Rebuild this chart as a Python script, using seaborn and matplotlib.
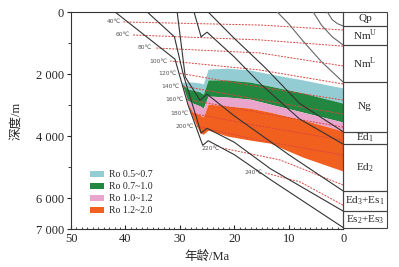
import numpy as np
import pandas as pd
import seaborn as sns
import matplotlib.pyplot as plt
from matplotlib.patches import Patch, Rectangle
from matplotlib.ticker import MultipleLocator

# burial curves of horizon bottoms: (age Ma, depth m)
qp_bot = [(2.9, 0), (2.0, 250), (1.0, 380), (0, 450)]
nmu_bot = [(5.5, 0), (4.0, 420), (2.0, 800), (0, 1065)]
nml_bot = [(12.1, 0), (10, 380), (7.4, 930), (4, 1600), (0, 2260)]
ng_bot = [(24.8, 0), (20, 850), (14.3, 1800), (8, 2950), (0, 3860)]
ed1_bot = [(27.4, 0), (26.1, 800), (25.0, 650), (20, 1450), (15, 2350), (8, 3450), (0, 4260)]
ed2_bot = [(30.5, 0), (29.0, 2100), (26.3, 2850), (25.0, 2650), (20, 3350), (10, 4600), (0, 5770)]
ed3_bot = [(36.0, 0), (31.0, 800), (29.4, 2000), (26.1, 3900), (25.0, 3750), (20, 4200), (13.4, 5050), (0, 6420)]
es3_bot = [(41.9, 0), (30.9, 1520), (28.5, 3000), (25.8, 4300), (24.8, 4150), (20, 4600), (13.4, 5400), (0, 6950)]
horizons = [qp_bot, nmu_bot, nml_bot, ng_bot, ed1_bot, ed2_bot, ed3_bot, es3_bot]

# isotherms: label -> (age, depth) points
isotherms = {
    '40℃': [(40.4, 320), (15.3, 420), (0, 580)],
    '60℃': [(38.6, 740), (15.3, 900), (0, 1100)],
    '80℃': [(34.6, 1160), (15.3, 1320), (0, 1740)],
    '100℃': [(31.8, 1580), (15.3, 1870), (0, 2320)],
    '120℃': [(30.2, 1970), (15.3, 2420), (0, 2840)],
    '140℃': [(29.5, 2390), (15.3, 2830), (0, 3290)],
    '160℃': [(28.8, 2810), (15.3, 3250), (0, 3710)],
    '180℃': [(28.0, 3260), (15.3, 3680), (0, 4130)],
    '200℃': [(27.0, 3680), (15.3, 4140), (0, 4610)],
    '220℃': [(22.1, 4390), (11.6, 4770), (0, 5580)],
    '240℃': [(14.3, 5190), (7.9, 5480), (0, 6230)],
}

# Ro zone boundaries
ro_age = [29.6, 28.6, 27.6, 26.3, 25.7, 24.8, 21.3, 17.1, 13.4, 7.4, 0.0]
ro05 = [2260, 2260, 2260, 2290, 2320, 1840, 1810, 1870, 2000, 2190, 2450]
ro07 = [2320, 2480, 2520, 2580, 2650, 2190, 2190, 2260, 2390, 2610, 2940]
ro10 = [2320, 2840, 2940, 3030, 3100, 2710, 2740, 2810, 2970, 3230, 3550]
ro12 = [2320, 2940, 3230, 3320, 3390, 2970, 3030, 3100, 3230, 3480, 3840]
ro20 = [2320, 2940, 3420, 3900, 3940, 3810, 4000, 4130, 4230, 4680, 5130]
ro_labels = ['Ro 0.5~0.7', 'Ro 0.7~1.0', 'Ro 1.0~1.2', 'Ro 1.2~2.0']
ro_colors = ['#93cdd3', '#23883f', '#e9a5cb', '#f2601f']

# stratigraphic column
strat_names = ['Qp', r'Nm$^{\mathrm{U}}$', r'Nm$^{\mathrm{L}}$', 'Ng', r'Ed$_1$', r'Ed$_2$',
               r'Ed$_3$+Es$_1$', r'Es$_2$+Es$_3$']
strat_top = [0, 450, 1065, 2260, 3860, 4260, 5770, 6420]
strat_bot = [450, 1065, 2260, 3860, 4260, 5770, 6420, 6950]

sns.set_style('ticks')
plt.rcParams['font.family'] = ['Liberation Serif', 'Noto Sans CJK SC']
plt.rcParams['mathtext.fontset'] = 'custom'
plt.rcParams['mathtext.rm'] = 'Liberation Serif'

fig = plt.figure(figsize=(3.99, 2.67), dpi=100)
ax = fig.add_axes([0.178, 0.142, 0.682, 0.813])

bounds = [ro05, ro07, ro10, ro12, ro20]
for i in range(4):
    ax.fill_between(ro_age, bounds[i], bounds[i + 1], color=ro_colors[i], lw=0, zorder=1)

for name, pts in isotherms.items():
    df = pd.DataFrame(pts, columns=['age', 'depth'])
    sns.lineplot(data=df, x='age', y='depth', ax=ax, color='#d8463f', lw=0.7,
                 dashes=False, linestyle=(0, (2, 1.3)), zorder=3)
    ax.text(df.age[0] + 0.5, df.depth[0], name, fontsize=4.3, ha='right', va='center',
            color='#555555', family=['DejaVu Sans'], zorder=4)

for k, pts in enumerate(horizons):
    df = pd.DataFrame(pts, columns=['age', 'depth'])
    c = '#666666' if k in (0, 1, 2) else '#333333'
    sns.lineplot(data=df, x='age', y='depth', ax=ax, color=c, lw=0.8, sort=False,
                 estimator=None, zorder=5)

for name, t, b in zip(strat_names, strat_top, strat_bot):
    ax.add_patch(Rectangle((0, t), -8, b - t, fill=False, ec='#444444', lw=0.8,
                           clip_on=False, zorder=6))
    ax.text(-4, (t + b) / 2, name, fontsize=8, ha='center', va='center', clip_on=False)

ax.set_xlim(50, 0)
ax.set_ylim(7000, 0)
ax.set_xticks([50, 40, 30, 20, 10, 0])
ax.xaxis.set_minor_locator(MultipleLocator(1))
ax.tick_params(axis='x', which='both', direction='in', labelsize=9, pad=3)
ax.tick_params(axis='x', which='major', length=3)
ax.tick_params(axis='x', which='minor', length=1.8)
ax.set_yticks([0, 2000, 4000, 6000, 7000])
ax.set_yticklabels(['0', '2 000', '4 000', '6 000', '7 000'])
ax.set_yticks([1000, 3000, 5000], minor=True)
ax.tick_params(axis='y', which='both', direction='out', labelsize=9, pad=2)
ax.tick_params(axis='y', which='major', length=3)
ax.tick_params(axis='y', which='minor', length=2)
for s in ax.spines.values():
    s.set_linewidth(0.8)
    s.set_color('#333333')
ax.set_xlabel('年龄/Ma', fontsize=9, labelpad=4)
ax.set_ylabel('深度/m', fontsize=9, labelpad=10)

handles = [Patch(facecolor=c, edgecolor='none') for c in ro_colors]
ax.legend(handles, ro_labels, loc='upper left', bbox_to_anchor=(0.07, 0.27), frameon=False,
          fontsize=7, handlelength=1.4, handleheight=0.6, handletextpad=0.5,
          labelspacing=0.3, borderpad=0, borderaxespad=0)

fig.savefig('out.png', dpi=100)
